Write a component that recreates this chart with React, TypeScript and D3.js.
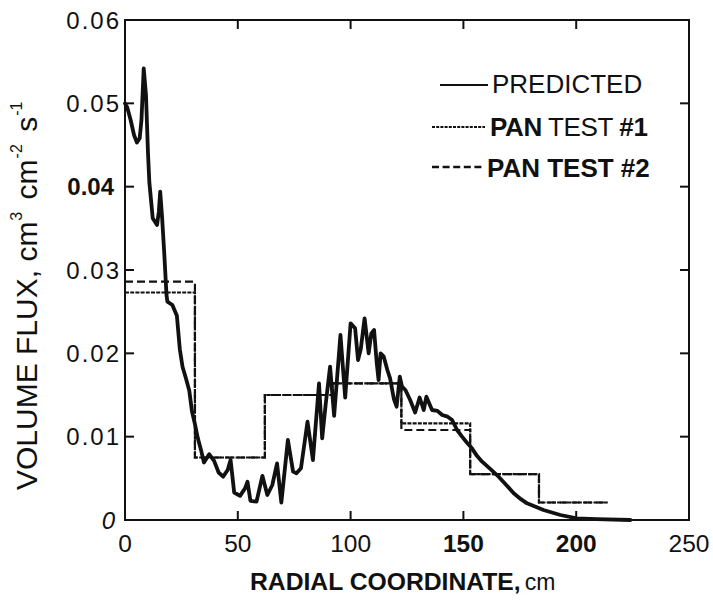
import React from "react";
import * as d3 from "d3";

const W = 713;
const H = 602;

// Predicted volume flux curve (radial coordinate cm, flux)
const predictedX = [
  0, 1, 2.5, 4, 5.3, 6.5, 7.3, 8.3, 9.3, 10.2, 10.8, 12.3, 14.2, 15.0, 15.6, 16.4, 17.4, 18.4, 18.8, 21,
  23, 24.3, 25.5, 27, 28.5, 29.7, 31, 32.3, 33.6, 35, 37.3, 39.5, 41.5, 43.5, 45.5, 46.8, 48.4, 51, 53.2, 54.3,
  55.6, 58.3, 60.9, 63.1, 65.3, 67.4, 69.3, 72.2, 74.5, 76, 78, 80.9, 83.3, 86, 87.4, 89, 90.9, 92.7, 95.5, 97.6,
  100, 102, 103.3, 104.5, 106.2, 108, 109.2, 110.4, 111.6, 112.4, 113.3, 114.7, 116.3, 117.5, 119.2, 120.4, 121.8, 122.8, 124.3, 126.4,
  128.6, 130.6, 132.4, 133.6, 136.1, 138.5, 140.6, 143, 145, 147.2, 149.4, 151.5, 153.8, 156, 158.3, 162, 165.6, 169, 172.3, 175.5,
  178.2, 182, 185.5, 193, 200.3, 209, 224,
];
const predictedY = [
  0.0500, 0.0495, 0.0480, 0.0462, 0.0453, 0.0458, 0.0480, 0.0542, 0.0510, 0.0440, 0.0405, 0.0362, 0.0354, 0.0370, 0.0394, 0.0365, 0.0320, 0.0270, 0.0262, 0.0258,
  0.0245, 0.0205, 0.0184, 0.0170, 0.0155, 0.0130, 0.0115, 0.0098, 0.0085, 0.0069, 0.0079, 0.0071, 0.0057, 0.0052, 0.0060, 0.0072, 0.0033, 0.0029, 0.0038, 0.0046,
  0.0023, 0.0022, 0.0053, 0.0030, 0.0042, 0.0068, 0.0021, 0.0096, 0.0058, 0.0056, 0.0062, 0.0118, 0.0072, 0.0164, 0.0098, 0.0140, 0.0184, 0.0125, 0.0222, 0.0147,
  0.0236, 0.0230, 0.0192, 0.0205, 0.0242, 0.0200, 0.0224, 0.0228, 0.0188, 0.0168, 0.0200, 0.0196, 0.0180, 0.0170, 0.0145, 0.0136, 0.0172, 0.0160, 0.0156, 0.0144,
  0.0129, 0.0147, 0.0132, 0.0148, 0.0132, 0.0131, 0.0126, 0.0124, 0.0120, 0.0108, 0.0100, 0.0093, 0.0086, 0.0077, 0.0070, 0.0061, 0.0052, 0.0042, 0.0032, 0.0025,
  0.0020, 0.0016, 0.0012, 0.0006, 0.0002, 0.0001, 0.0,
];

// Pan collectors: ring edges and measured flux per ring
const ringEdges = [0, 31, 62, 92, 122.5, 153, 183.5, 214];
const panTest1 = [0.0273, 0.0075, 0.0150, 0.0164, 0.0116, 0.0055, 0.0021];
const panTest2 = [0.0286, 0.0075, 0.0150, 0.0164, 0.0108, 0.0055, 0.0021];

const xTicks = [0, 50, 100, 150, 200, 250];
const xTickLabels = ["0", "50", "100", "150", "200", "250"];
const xTickBold = [false, false, false, true, true, false];
const yTicks = [0, 0.01, 0.02, 0.03, 0.04, 0.05, 0.06];
const yTickLabels = ["0", "0.01", "0.02", "0.03", "0.04", "0.05", "0.06"];
const yTickBold = [false, false, false, false, true, false, false];

const FONT = "'Liberation Sans', Arial, Helvetica, sans-serif";

export default function App() {
  const x = d3.scaleLinear().domain([0, 250]).range([125, 689]);
  const y = d3.scaleLinear().domain([0, 0.06]).range([520, 20]);

  const predicted = predictedX.map((v, i) => [v, predictedY[i]] as [number, number]);
  const line = d3
    .line<[number, number]>()
    .x((d) => x(d[0]))
    .y((d) => y(d[1]))
    .curve(d3.curveLinear);

  const stepPts = (vals: number[]) => {
    const pts: [number, number][] = vals.map((v, i) => [ringEdges[i], v]);
    pts.push([ringEdges[ringEdges.length - 1], vals[vals.length - 1]]);
    return pts;
  };
  const stepLine = d3
    .line<[number, number]>()
    .x((d) => x(d[0]))
    .y((d) => y(d[1]))
    .curve(d3.curveStepAfter);

  const tickLen = 9;
  const [x0, x1] = x.range();
  const [y0, y1] = y.range();

  return (
    <div style={{ position: "fixed", left: 0, top: 0 }}>
      <svg width={W} height={H} viewBox={`0 0 ${W} ${H}`} style={{ display: "block", background: "#fff" }}>
        <rect width={W} height={H} fill="#fff" />
        {/* frame */}
        <rect x={x0} y={y1} width={x1 - x0} height={y0 - y1} fill="none" stroke="#111" strokeWidth={2} />
        {/* ticks */}
        {xTicks.slice(1, -1).map((t) => (
          <g key={"xt" + t}>
            <line x1={x(t)} x2={x(t)} y1={y0} y2={y0 - tickLen} stroke="#111" strokeWidth={2} />
            <line x1={x(t)} x2={x(t)} y1={y1} y2={y1 + tickLen} stroke="#111" strokeWidth={2} />
          </g>
        ))}
        {yTicks.slice(1, -1).map((t) => (
          <g key={"yt" + t}>
            <line x1={x0} x2={x0 + tickLen} y1={y(t)} y2={y(t)} stroke="#111" strokeWidth={2} />
            <line x1={x1} x2={x1 - tickLen} y1={y(t)} y2={y(t)} stroke="#111" strokeWidth={2} />
          </g>
        ))}
        {/* tick labels */}
        {xTicks.map((t, i) => (
          <text
            key={"xl" + t}
            x={x(t)}
            y={551.5}
            textAnchor="middle"
            fontFamily={FONT}
            fontSize={24.5}
            fontWeight={xTickBold[i] ? "bold" : "normal"}
            fill="#111"
          >
            {xTickLabels[i]}
          </text>
        ))}
        {yTicks.map((t, i) => (
          <text
            key={"yl" + t}
            x={i === 0 ? 115 : yTickBold[i] ? 114 : 121}
            y={y(t) + 8.5}
            textAnchor="end"
            fontFamily={FONT}
            fontSize={24}
            letterSpacing={i === 0 || yTickBold[i] ? 0 : 2}
            fontStyle={i === 0 ? "italic" : "normal"}
            fontWeight={yTickBold[i] ? "bold" : "normal"}
            fill="#111"
          >
            {yTickLabels[i]}
          </text>
        ))}
        {/* pan tests */}
        <path d={stepLine(stepPts(panTest1)) || ""} fill="none" stroke="#111" strokeWidth={2.2} strokeDasharray="4,1.2" />
        <path d={stepLine(stepPts(panTest2)) || ""} fill="none" stroke="#111" strokeWidth={2.2} strokeDasharray="8,4" />
        {/* predicted */}
        <path d={line(predicted) || ""} fill="none" stroke="#111" strokeWidth={3.8} strokeLinejoin="round" strokeLinecap="round" />
        {/* legend */}
        <line x1={440} x2={488} y1={85} y2={85} stroke="#111" strokeWidth={2.2} />
        <text x={492} y={93} fontFamily={FONT} fontSize={26} fill="#111">PREDICTED</text>
        <line x1={432} x2={485} y1={127} y2={127} stroke="#111" strokeWidth={2.2} strokeDasharray="3,1.2" />
        <text x={490} y={136} fontFamily={FONT} fontSize={26} fill="#111" letterSpacing={-0.4}>
          <tspan fontWeight="bold">PAN</tspan>
          <tspan> TEST </tspan>
          <tspan fontWeight="bold">#1</tspan>
        </text>
        <line x1={432} x2={485} y1={167} y2={167} stroke="#111" strokeWidth={2.4} strokeDasharray="7,3.6" />
        <text x={487} y={177} fontFamily={FONT} fontSize={26} fontWeight="bold" fill="#111">PAN TEST #2</text>
        {/* axis titles */}
        <text x={250} y={590} fontFamily={FONT} fill="#111">
          <tspan fontWeight="bold" fontSize={24.7}>RADIAL COORDINATE,</tspan>
          <tspan dx={4} fontSize={23}>cm</tspan>
        </text>
        <text
          transform={`translate(37, 490) rotate(-90)`}
          fontFamily={FONT}
          fontSize={30}
          fill="#111"
        >
          <tspan>VOLUME FLUX, cm</tspan>
          <tspan fontSize={16} dy={-15} dx={1}>3</tspan>
          <tspan dy={15} dx={4}> cm</tspan>
          <tspan fontSize={16} dy={-15} dx={1}>-2</tspan>
          <tspan dy={15} dx={4}> s</tspan>
          <tspan fontSize={16} dy={-15} dx={1}>-1</tspan>
        </text>
      </svg>
    </div>
  );
}
